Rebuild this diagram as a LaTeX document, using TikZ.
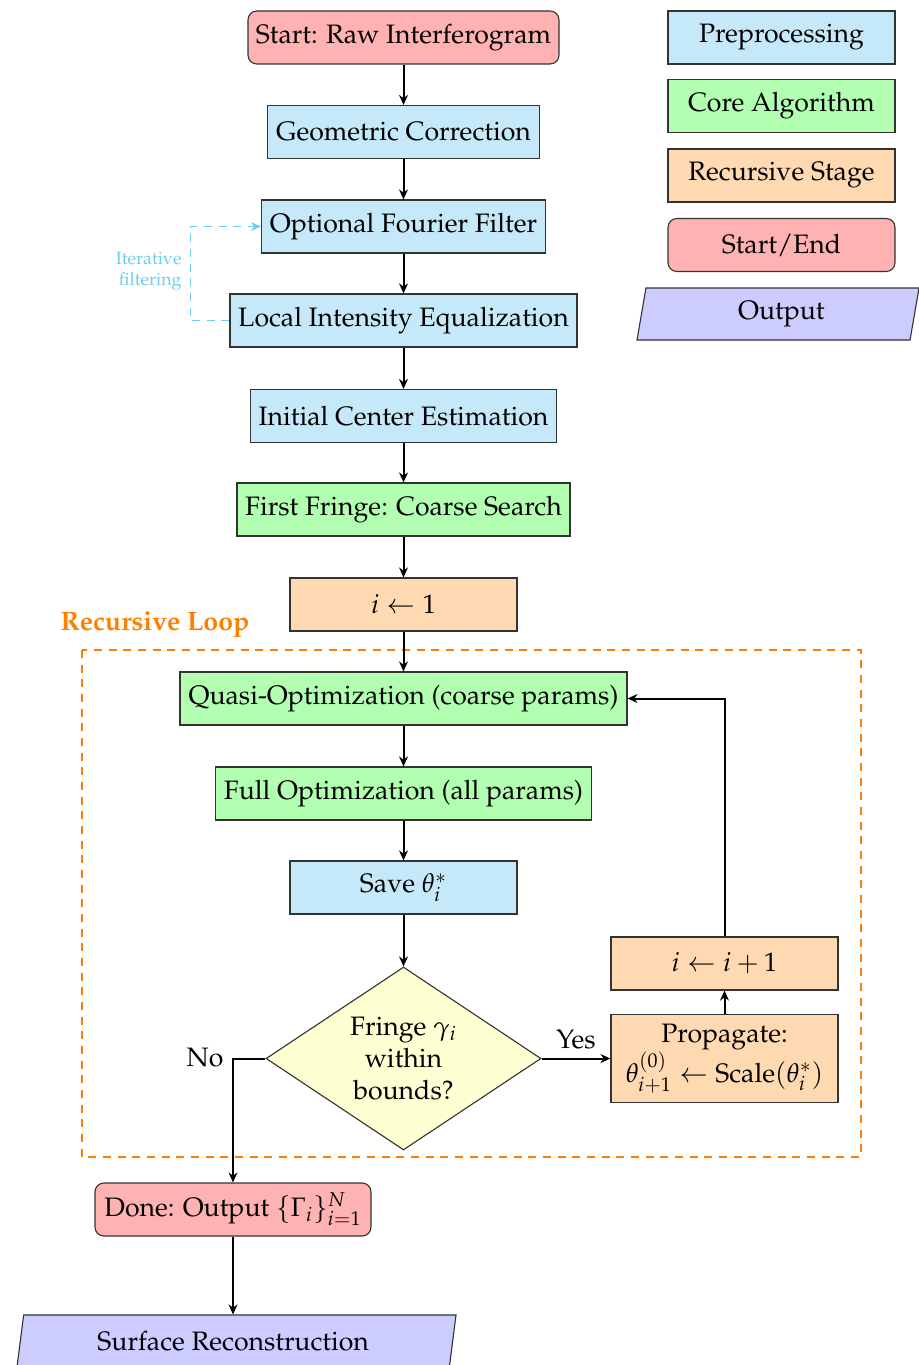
\documentclass[tikz,border=0pt]{standalone}
\usepackage[T1]{fontenc}
\usepackage{mathpazo}
\usetikzlibrary{shapes.geometric,arrows.meta}
\definecolor{cPre}{RGB}{198,233,250}
\definecolor{cCore}{RGB}{178,255,178}
\definecolor{cRec}{RGB}{255,217,178}
\definecolor{cSE}{RGB}{255,178,178}
\definecolor{cOut}{RGB}{204,204,255}
\definecolor{cDec}{RGB}{255,255,212}
\definecolor{cIter}{RGB}{110,205,240}
\definecolor{cLoop}{RGB}{255,128,0}
\begin{document}
\begin{tikzpicture}[x=0.45pt,y=-0.45pt,
 base/.style={draw=black!80,line width=0.5pt,font=\fontsize{12}{14.5}\selectfont,inner sep=0pt,minimum height=23.85pt,align=center},
 W/.style={minimum width=#1*0.45pt},
 H/.style={minimum height=#1*0.45pt},
 pre/.style={base,rectangle,fill=cPre},
 core/.style={base,rectangle,fill=cCore},
 rec/.style={base,rectangle,fill=cRec},
 term/.style={base,rectangle,rounded corners=4pt,fill=cSE},
 outp/.style={base,trapezium,trapezium left angle=71,trapezium right angle=109,trapezium stretches body,fill=cOut},
 dec/.style={base,diamond,aspect=1.5,fill=cDec},
 arr/.style={line width=0.9pt,-{Stealth[length=4.5pt,width=4pt]}},
 lbl/.style={font=\fontsize{12}{14.5}\selectfont,inner sep=0pt}
]
\useasboundingbox (0,0) rectangle (919,1365);

% main chain
\node[term,W=311] (start) at (403.5,37.5) {Start: Raw Interferogram};
\node[pre,W=272] (geo) at (403.5,132) {Geometric Correction};
\node[pre,W=284] (four) at (403.5,226.5) {Optional Fourier Filter};
\node[pre,W=347] (local) at (403.5,320.5) {Local Intensity Equalization};
\node[pre,W=306] (init) at (403.5,416) {Initial Center Estimation};
\node[core,W=333] (first) at (403.5,509.5) {First Fringe: Coarse Search};
\node[rec,W=227] (i1) at (403.5,604.5) {$i \leftarrow 1$};
\node[core,W=447] (quasi) at (403.5,698.5) {Quasi-Optimization (coarse params)};
\node[core,W=376] (full) at (403.5,793.5) {Full Optimization (all params)};
\node[pre,W=227] (save) at (403.5,887.5) {Save $\theta_i^*$};
\node[dec,W=275,H=183] (dec) at (403.5,1058.5) {Fringe $\gamma_i$\\within\\bounds?};
\node[rec,W=227] (inc) at (724.5,963.5) {$i \leftarrow i+1$};
\node[rec,W=227,H=88] (prop) at (724.5,1058.5) {Propagate:\\$\theta_{i+1}^{(0)} \leftarrow \mathrm{Scale}(\theta_i^*)$};
\node[term,W=276] (done) at (233,1209.5) {Done: Output $\{\Gamma_i\}_{i=1}^N$};
\node[outp,W=439,H=52,text depth=0pt] (surf) at (236.5,1341) {\hspace*{-3pt}Surface Reconstruction};

% loop frame
\draw[cLoop,line width=0.8pt,dash pattern=on 3.6pt off 3pt] (82,650) rectangle (861,1157);
\node[font=\fontsize{12}{14.5}\selectfont\bfseries,text=cLoop,inner sep=0pt] (looplbl) at (155,625) {Recursive Loop};

% arrows
\draw[arr] (start) -- (geo);
\draw[arr] (geo) -- (four);
\draw[arr] (four) -- (local);
\draw[arr] (local) -- (init);
\draw[arr] (init) -- (first);
\draw[arr] (first) -- (i1);
\draw[arr] (i1) -- (quasi);
\draw[arr] (quasi) -- (full);
\draw[arr] (full) -- (save);
\draw[arr] (save) -- (dec);
\draw[arr] (dec.east) -- (prop.west);
\node[lbl] (yes) at (576,1040) {Yes};
\draw[arr] (prop) -- (inc);
\draw[arr] (inc.north) |- (quasi.east);
\draw[arr] (dec.west) -| (done.north);
\node[lbl] (no) at (205,1058) {No};
\draw[arr] (done.south) -- (done.south |- surf.north);

% iterative filtering
\draw[cIter,line width=0.8pt,dash pattern=on 3.6pt off 3pt,-{Stealth[length=4.5pt,width=4pt]}] (local.west) -- ++(-39,0) |- (four.west);
\node[font=\footnotesize,text=cIter,align=right,inner sep=0pt,anchor=east] (iterlbl) at (182,271) {Iterative\\filtering};

% legend
\node[pre,W=227] (lpre) at (781.5,37.5) {Preprocessing};
\node[core,W=227] (lcore) at (781.5,106) {Core Algorithm};
\node[rec,W=227] (lrec) at (781.5,175.5) {Recursive Stage};
\node[term,W=227] (lse) at (781.5,245) {Start/End};
\node[outp,W=282,H=52] (lout) at (778,314) {\hspace*{3pt}Output};
\end{tikzpicture}
\end{document}
